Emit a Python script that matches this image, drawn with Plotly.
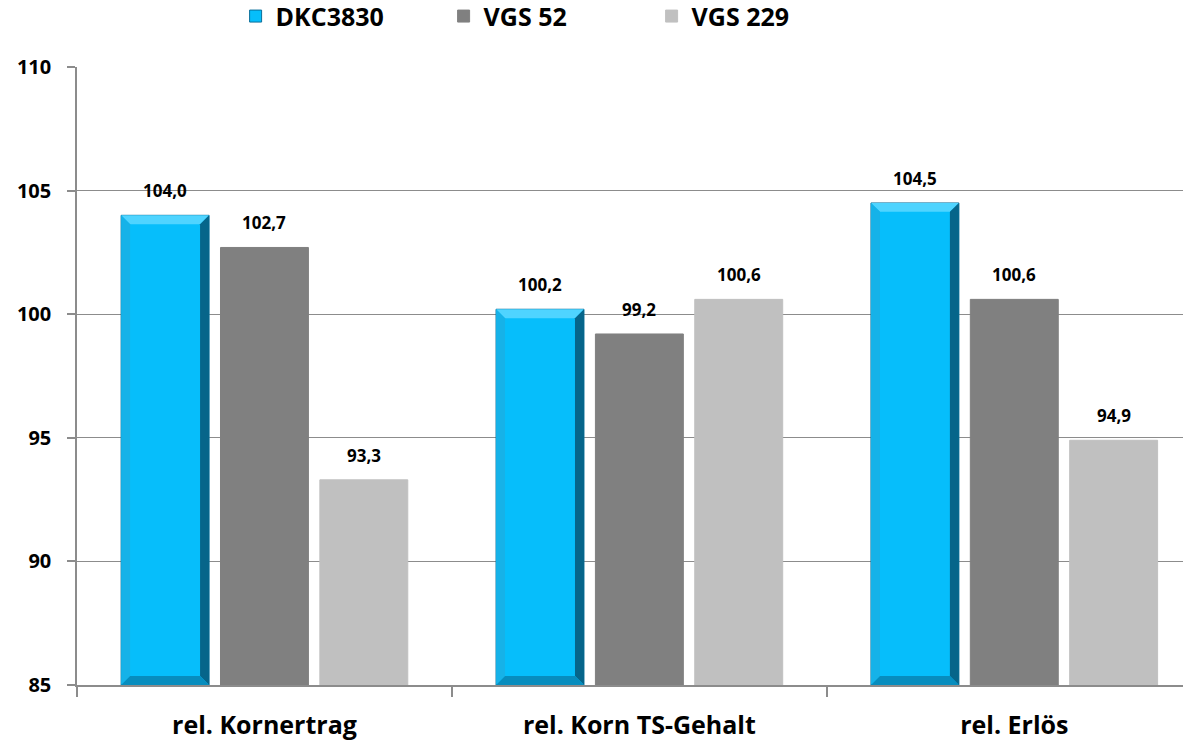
import plotly.graph_objects as go

categories = ["rel. Kornertrag", "rel. Korn TS-Gehalt", "rel. Erlös"]
series_names = ["DKC3830", "VGS 52", "VGS 229"]
dkc3830 = [104.0, 100.2, 104.5]
vgs52 = [102.7, 99.2, 100.6]
vgs229 = [93.3, 100.6, 94.9]
y_ticks = [85, 90, 95, 100, 105, 110]
y_base = 85

colors = ["#06BEFB", "#808080", "#C0C0C0"]
lines = ["#0A6F9A", "#808080", "#C0C0C0"]

BARGAP = 0.205
GROUPGAP = 0.115

all_series = [dkc3830, vgs52, vgs229]

fig = go.Figure()
for name, vals, c, lc in zip(series_names, all_series, colors, lines):
    fig.add_trace(go.Bar(
        name=name, x=categories, y=[v - y_base for v in vals],
        base=y_base,
        marker=dict(color=c, line=dict(color=lc, width=1)),
        hoverinfo="skip",
    ))

slot = (1 - BARGAP) / 3
bw = slot * (1 - GROUPGAP)

# value labels above each bar
for k, vals in enumerate(all_series):
    for i, v in enumerate(vals):
        fig.add_annotation(
            x=i + (k - 1) * slot, y=v, xref="x", yref="y",
            text=f"{v:.1f}".replace(".", ","), showarrow=False,
            yanchor="bottom", yshift=11,
            font=dict(family="Open Sans", size=17, color="black", weight="bold"),
        )

# bevel effect on the first series, derived from the axis geometry
dx = 0.024
dy = 0.36
for i, v in enumerate(dkc3830):
    cx = i - slot
    x0, x1 = cx - bw / 2, cx + bw / 2
    top, bot = v, y_base
    polys = [
        ([(x0, top), (x1, top), (x1 - dx, top - dy), (x0 + dx, top - dy)], "#4FD4FF"),
        ([(x1 - dx, top - dy), (x1, top), (x1, bot), (x1 - dx, bot + dy)], "#06658A"),
        ([(x0, top), (x0 + dx, top - dy), (x0 + dx, bot + dy), (x0, bot)], "#16B2E8"),
        ([(x0, bot), (x0 + dx, bot + dy), (x1 - dx, bot + dy), (x1, bot)], "#078DBE"),
    ]
    for pts, col in polys:
        path = "M " + " L ".join(f"{px},{py}" for px, py in pts) + " Z"
        fig.add_shape(type="path", path=path, xref="x", yref="y",
                      fillcolor=col, line=dict(width=0), layer="above")

fig.update_layout(
    width=1183, height=743,
    margin=dict(l=77, r=0, t=67, b=58, autoexpand=False),
    paper_bgcolor="white", plot_bgcolor="white",
    barmode="group", bargap=BARGAP, bargroupgap=GROUPGAP,
    showlegend=True,
    legend=dict(orientation="h", x=0.4255, xanchor="center", y=1.082, yanchor="middle",
                font=dict(family="Open Sans", size=25, color="black", weight="bold"),
                entrywidth=163, itemwidth=30, traceorder="normal"),
    yaxis=dict(range=[85, 110], tickmode="array", tickvals=y_ticks, ticktext=[str(t) for t in y_ticks],
               showgrid=True, gridcolor="#8C8C8C", gridwidth=1.3,
               showline=True, linecolor="#8C8C8C", linewidth=1.5,
               ticks="outside", ticklen=8, tickcolor="#8C8C8C", tickwidth=1.5,
               tickfont=dict(family="Open Sans", size=20, color="black", weight="bold"),
               zeroline=False, automargin=False, ticklabelstandoff=12),
    xaxis=dict(range=[-0.5, 2.45], showline=True, linecolor="#8C8C8C", linewidth=1.5,
               ticks="outside", ticklen=10, tickcolor="#8C8C8C", tickwidth=1.5,
               tickson="boundaries", automargin=False, ticklabelstandoff=17,
               tickfont=dict(family="Open Sans", size=25, color="black", weight="bold")),
)

fig.write_html("out.html", config={"displayModeBar": False},
               post_script="document.body.style.margin='0';")
